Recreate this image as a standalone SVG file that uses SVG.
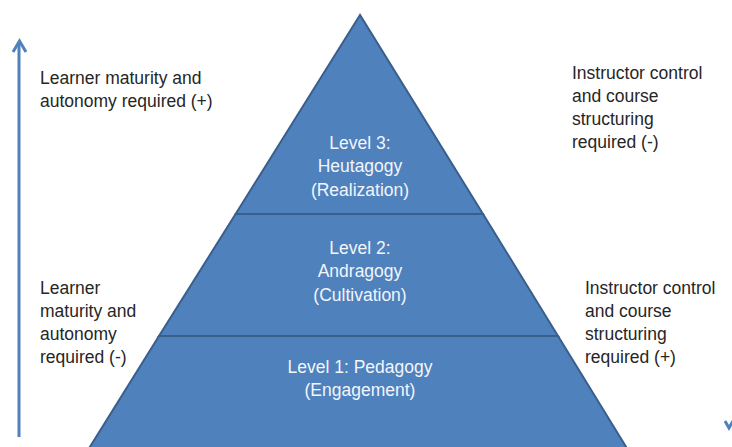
<svg xmlns="http://www.w3.org/2000/svg" width="732" height="447" viewBox="0 0 732 447">
<style>
.tier{fill:#4F81BD;stroke:#3A5F8C;stroke-width:2}
.lvl{font-family:"Liberation Sans",Arial,sans-serif;font-size:17.5px;fill:#F2F5FA;text-anchor:middle}
.side{font-family:"Liberation Sans",Arial,sans-serif;font-size:17.5px;fill:#262626}
.conn{stroke:#4F81BD;stroke-width:3;fill:none}
</style>
<rect width="732" height="447" fill="#fff"/>
<g id="level3">
<polygon class="tier" points="360,15 235.6,214 483,214"/>
<text class="lvl" x="360" y="149">Level 3:</text>
<text class="lvl" x="360" y="172">Heutagogy</text>
<text class="lvl" x="360" y="196">(Realization)</text>
</g>
<g id="level2">
<polygon class="tier" points="235.6,214 483,214 558,336 159,336"/>
<text class="lvl" x="360" y="254">Level 2:</text>
<text class="lvl" x="360" y="277">Andragogy</text>
<text class="lvl" x="360" y="301">(Cultivation)</text>
</g>
<g id="level1">
<polygon class="tier" points="159,336 558,336 628,450 88,450"/>
<text class="lvl" x="360" y="373">Level 1: Pedagogy</text>
<text class="lvl" x="360" y="396">(Engagement)</text>
</g>
<g id="connectors">
<path class="conn" d="M19,437 V42"/>
<path class="conn" d="M13,52 L19.5,41 L26,52"/>
<path class="conn" d="M725,421 L729,428 L733,421"/>
</g>
<g id="left-top">
<text class="side" x="40" y="84">Learner maturity and</text>
<text class="side" x="40" y="107">autonomy required (+)</text>
</g>
<g id="left-bottom">
<text class="side" x="40" y="294">Learner</text>
<text class="side" x="40" y="317">maturity and</text>
<text class="side" x="40" y="340">autonomy</text>
<text class="side" x="40" y="363">required (-)</text>
</g>
<g id="right-top">
<text class="side" x="572" y="79">Instructor control</text>
<text class="side" x="572" y="102">and course</text>
<text class="side" x="572" y="125">structuring</text>
<text class="side" x="572" y="148">required (-)</text>
</g>
<g id="right-bottom">
<text class="side" x="585" y="294">Instructor control</text>
<text class="side" x="585" y="317">and course</text>
<text class="side" x="585" y="340">structuring</text>
<text class="side" x="585" y="363">required (+)</text>
</g>
</svg>
